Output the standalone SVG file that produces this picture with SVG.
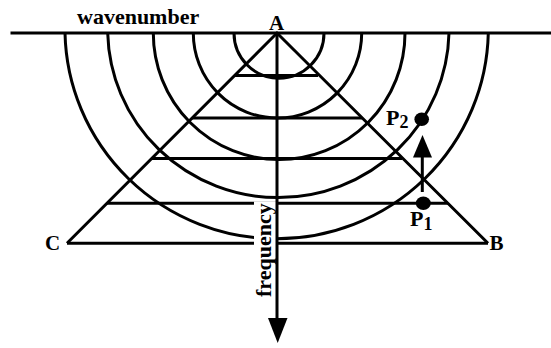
<svg xmlns="http://www.w3.org/2000/svg" width="551" height="348" viewBox="0 0 551 348">
<style>
.ln{stroke:#000;stroke-width:3;fill:none;stroke-linecap:butt}
.t{font-family:"Liberation Serif","Times New Roman",serif;font-weight:bold;fill:#000}
</style>
<rect width="551" height="348" fill="#fff"/>
<g id="axis">
<line class="ln" x1="10.5" y1="33" x2="551" y2="33"/>
<text class="t" x="77" y="23.5" font-size="22">wavenumber</text>
</g>
<g id="arcs">
<path class="ln" d="M234 33 A45 45.3 0 0 0 324 33"/>
<path class="ln" d="M193.3 33 A84.2 85 0 0 0 361.7 33"/>
<path class="ln" d="M153.3 33 A125.8 126.5 0 0 0 405 33"/>
<path class="ln" d="M107.7 33 A170.7 168.7 0 0 0 449 33"/>
<path class="ln" d="M65 33 A211.7 210.3 0 0 0 488.3 33"/>
</g>
<g id="triangle">
<polyline class="ln" points="67,243.3 277,33 488,243.3"/>
<line class="ln" x1="67" y1="243.3" x2="488" y2="243.3"/>
<line class="ln" x1="235" y1="75.5" x2="318" y2="75.5"/>
<line class="ln" x1="192" y1="118" x2="362" y2="118"/>
<line class="ln" x1="152" y1="158.5" x2="402" y2="158.5"/>
<line class="ln" x1="107" y1="203.3" x2="448" y2="203.3"/>
</g>
<g id="frequency">
<rect x="254" y="201.5" width="22" height="98" fill="#fff"/>
<text class="t" font-size="22" transform="translate(271 297) rotate(-90)">frequency</text>
</g>
<g id="connectors">
<line class="ln" x1="277" y1="33" x2="277" y2="320"/>
<polygon points="268,318 287.5,318 277.7,343" fill="#000"/>
<line class="ln" x1="422.3" y1="192" x2="422.3" y2="156"/>
<polygon points="413,157.5 432,157.5 422.5,135" fill="#000"/>
</g>
<g id="A">
<text class="t" x="276.5" y="29.5" font-size="21" text-anchor="middle">A</text>
</g>
<g id="B">
<text class="t" x="489.5" y="250" font-size="21">B</text>
</g>
<g id="C">
<text class="t" x="45" y="250" font-size="21">C</text>
</g>
<g id="P2">
<ellipse cx="421.7" cy="119.3" rx="7.3" ry="6.8" fill="#000"/>
<text class="t" x="386" y="125" font-size="22">P<tspan font-size="18" dy="2.5">2</tspan></text>
</g>
<g id="P1">
<ellipse cx="423.3" cy="203.3" rx="7.5" ry="6.8" fill="#000"/>
<text class="t" x="410" y="226" font-size="22">P<tspan font-size="18" dy="4">1</tspan></text>
</g>
</svg>
